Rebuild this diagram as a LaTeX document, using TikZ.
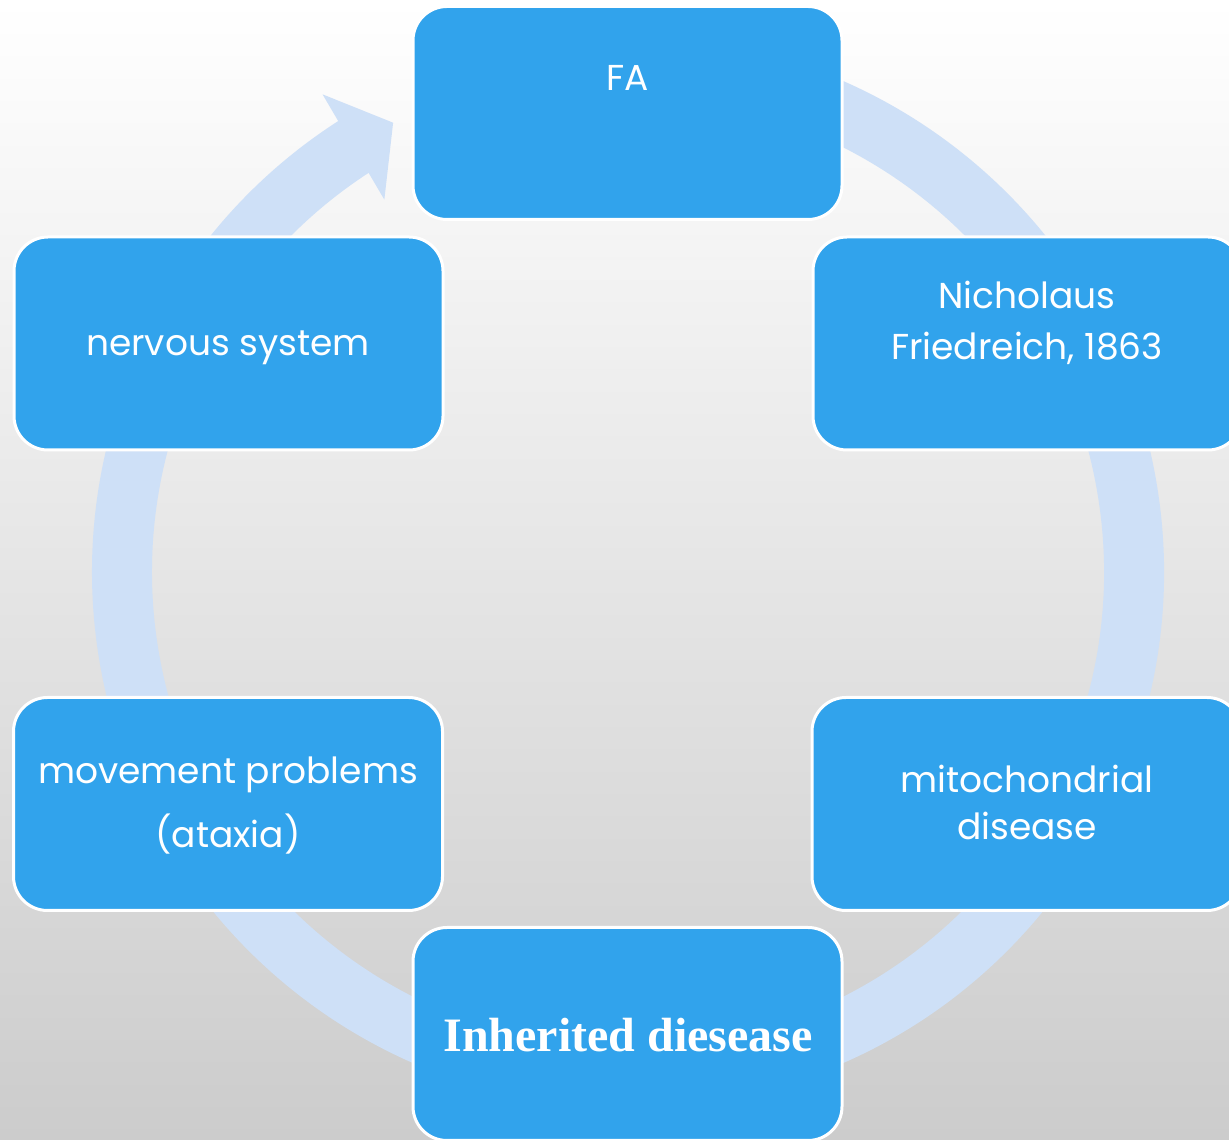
\documentclass[tikz,border=0pt]{standalone}
\usepackage{fontspec}
\setmainfont{Poppins}
\newfontfamily\headfont{Liberation Serif}
\usepackage{tikz}
\usetikzlibrary{calc}

\definecolor{boxblue}{RGB}{49,163,236}
\definecolor{ringblue}{RGB}{206,224,247}

\begin{document}
\begin{tikzpicture}[x=1pt, y=1pt,
    box/.style={rectangle, rounded corners=34pt, fill=boxblue, draw=white, line width=3pt,
        minimum width=429pt, minimum height=213pt, inner sep=0pt},
    lbl/.style={text=white, align=center, font=\fontsize{36}{50}\selectfont},
    ring/.style={draw=ringblue, line width=60pt}]
    \useasboundingbox (0,0) rectangle (1229,1140);
    \clip (0,0) rectangle (1229,1140);
    \shade[top color=white, middle color=gray!10, bottom color=gray!40] (0,0) rectangle (1229,1140);

    % ring with arrow head
    \coordinate (c) at (628,568);
    \draw[ring] ($(c)+(100:506)$) arc[start angle=100, end angle=-238, radius=506];
    \fill[ringblue] ($(c)+(123.2:445)$) -- ($(c)+(117.6:507)$) -- ($(c)+(122.6:567)$) -- cycle;

    \node[box] (fa) at (627.5,1027) {};
    \node[box] (nich) at (1027.5,796.5) {};
    \node[box] (nerv) at (228.5,796.5) {};
    \node[box] (mito) at (1026.5,336) {};
    \node[box] (move) at (228,336) {};
    \node[box] (inh) at (627.5,106) {};

    \node[lbl] (fatext) at (628,1062) {FA};
    \node[lbl] (nichtext) at (1027,817) {Nicholaus\\[1pt]Friedreich, 1863};
    \node[lbl] (nervtext) at (228,792) {nervous system};
    \node[lbl] (mitotext) at (1027,338) {mitochondrial\\[-3pt]disease};
    \node[lbl] (movetext) at (228,334) {movement problems\\[14pt](ataxia)};
    \node[text=white, font=\headfont\bfseries\fontsize{48}{58}\selectfont] (inhtext) at (628,105) {Inherited diesease};
\end{tikzpicture}
\end{document}
